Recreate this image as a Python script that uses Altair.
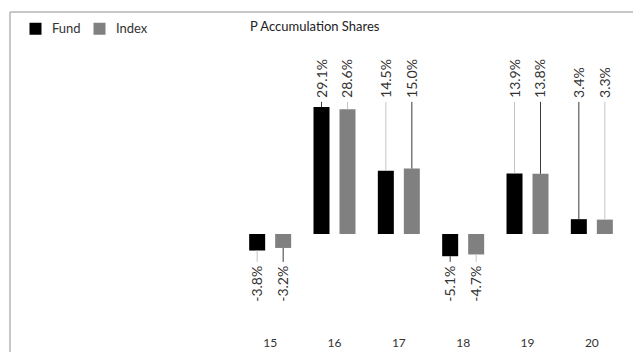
import altair as alt
import pandas as pd

years = [15, 16, 17, 18, 19, 20]
fund = [-3.8, 29.1, 14.5, -5.1, 13.9, 3.4]
index = [-3.2, 28.6, 15.0, -4.7, 13.8, 3.3]
series = ["Fund", "Index"]
series_colors = ["#000000", "#808080"]
title_text = "P Accumulation Shares"

rows = []
for i, yr in enumerate(years):
    rows.append({"year": str(yr), "yr": yr, "series": "Fund", "v": fund[i]})
    rows.append({"year": str(yr), "yr": yr, "series": "Index", "v": index[i]})
df = pd.DataFrame(rows)

FONT = "Lato"

base = alt.Chart(df).transform_calculate(
    label="replace(format(datum.v, '.1f'), '\u2212', '-') + '%'",
    lab_y="datum.v >= 0 ? 31.2 : -7.3",
    lead_y="datum.v >= 0 ? 30.3 : -6.4",
    lead_c="((datum.yr % 2 == 1) == (datum.series == 'Fund')) ? '#c4c4c4' : '#3a3a3a'",
)

xenc = alt.X(
    "year:N",
    sort=[str(y) for y in years],
    scale=alt.Scale(paddingInner=0, paddingOuter=0),
    axis=alt.Axis(
        title=None, domain=False, ticks=False, labelAngle=0, labelPadding=12,
        labelBaseline="middle", labelFontSize=12, labelColor="#333333", labelFont=FONT,
        grid=False,
    ),
)
xoff = alt.XOffset(
    "series:N",
    scale=alt.Scale(domain=series, paddingInner=0.3846, paddingOuter=0.4296),
)
yscale = alt.Scale(domain=[-22.02, 42.2], nice=False, zero=False)

bars = base.mark_bar().encode(
    x=xenc,
    xOffset=xoff,
    y=alt.Y("v:Q", scale=yscale, axis=None),
    y2=alt.datum(0),
    color=alt.Color(
        "series:N",
        scale=alt.Scale(domain=series, range=series_colors),
        legend=alt.Legend(
            title=None, orient="none", legendX=-209, legendY=-28,
            direction="horizontal", symbolType="square", symbolSize=144,
            symbolStrokeWidth=0, labelFontSize=13, labelFont=FONT,
            labelColor="#333333", labelOffset=10, columnPadding=12, padding=0,
        ),
    ),
)

leaders = base.mark_rule(strokeWidth=1).encode(
    x=xenc,
    xOffset=xoff,
    y=alt.Y("v:Q", scale=yscale, axis=None),
    y2="lead_y:Q",
    color=alt.Color("lead_c:N", scale=None),
)

pos_text = base.transform_filter("datum.v >= 0").mark_text(
    angle=270, align="left", baseline="middle", fontSize=14, font=FONT, color="#333333", dy=1
).encode(
    x=xenc, xOffset=xoff,
    y=alt.Y("lab_y:Q", scale=yscale, axis=None),
    text="label:N",
)

neg_text = base.transform_filter("datum.v < 0").mark_text(
    angle=270, align="right", baseline="middle", fontSize=14, font=FONT, color="#333333", dy=1
).encode(
    x=xenc, xOffset=xoff,
    y=alt.Y("lab_y:Q", scale=yscale, axis=None),
    text="label:N",
)

one = alt.Chart(pd.DataFrame({"t": [title_text]}))

title = one.mark_text(align="left", baseline="middle", fontSize=13, font=FONT, color="#222222").encode(
    x=alt.value(12), y=alt.value(-23), text="t:N"
)

frame_top = one.mark_rule(color="#b4b4b4", strokeWidth=1.5).encode(
    x=alt.value(-228), x2=alt.value(395), y=alt.value(-38)
)
frame_left = one.mark_rule(color="#b4b4b4", strokeWidth=1.5).encode(
    x=alt.value(-228), y=alt.value(-38), y2=alt.value(302)
)

chart = alt.layer(frame_top, frame_left, bars, leaders, pos_text, neg_text, title).properties(
    width=386, height=280,
    padding={"left": 230, "top": 42, "right": 9, "bottom": 22},
    autosize="none",
).configure_view(stroke=None)

chart.save("out.html", embed_options={"renderer": "svg", "actions": False})
